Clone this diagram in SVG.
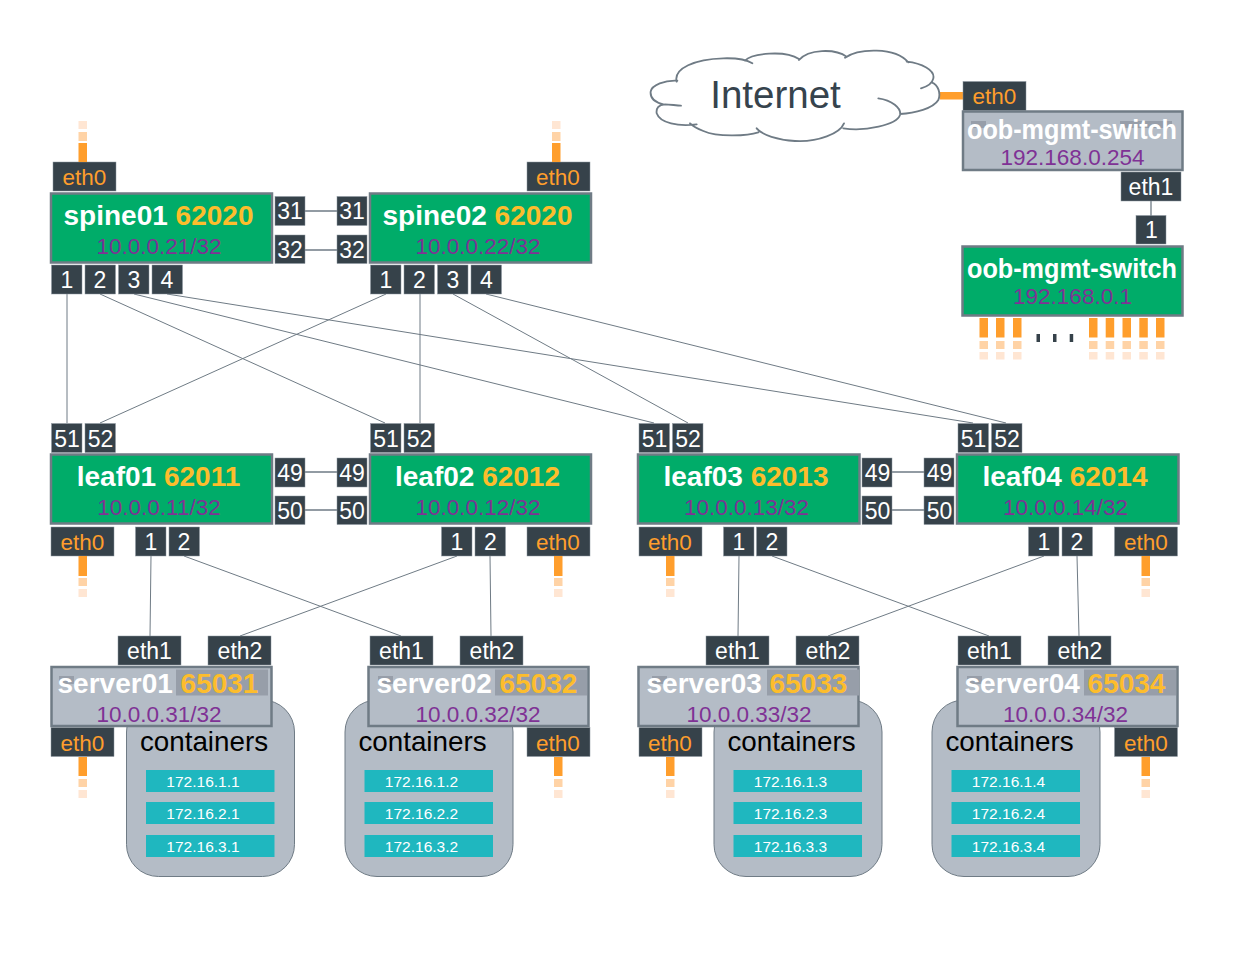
<svg xmlns="http://www.w3.org/2000/svg" width="1248" height="960" viewBox="0 0 1248 960">
<style>
text{font-family:"Liberation Sans",Arial,sans-serif;text-anchor:middle}
.n{stroke:#6f7b85;stroke-width:2.5}
.g{fill:#00ac69}
.s{fill:#b4bcc6}
.p{fill:#36424a;stroke:#8d97a1;stroke-width:.5}
.pt{fill:#fff;font-size:23px}
.pe{fill:#ff9e2c;font-size:22.5px}
.name{fill:#fff;font-size:28px;font-weight:bold}
.asn{fill:#fdbd2c}
.ip{fill:#7f3295;font-size:22.5px}
.patch{fill:#979ea9}
.link{stroke:#6f7b85;stroke-width:1;fill:none}
.link2{stroke:#6f7b85;stroke-width:1.3;fill:none}
.o1{fill:#ff9e2c}
.o2{fill:#ffd3a6}
.o3{fill:#ffe6d3}
.ct{fill:#b4bcc6;stroke:#6f7b85;stroke-width:1}
.ctt{fill:#000;font-size:27.8px}
.tl{fill:#1fb7bf}
.tlt{fill:#fff;font-size:15.5px}
</style>
<g id="connectors">
<path class="link" d="M67 294V423M100 294L385 423M134 294L654 423M167 294L973 423M386 294L100 423M420 294V423M453 294L688 423M486 294L1006 423"/>
<path class="link" d="M151 556L150 636M184 556L401 636M457 556L240 636M490 556L491 636M739 556L738 636M772 556L989 636M1044 556L828 636M1077 556L1079 636"/>
<path class="link2" d="M305 211H337M305 250H337M305 472H337M305 510H337M892 472H924M892 510H924M1151 201V216"/>
<rect class="o1" x="940" y="92" width="24" height="7.5"/>
</g>
<g id="internet">
<path transform="translate(645 45) scale(.33333)" fill="none" stroke="#6f7b85" stroke-width="5.500" stroke-linecap="round" d="M95 110C85 70 150 42 235 40C270 39 305 44 322 55M300 47C320 25 420 15 462 42M462 45C490 12 570 10 605 35M600 38C640 10 750 5 790 52M785 50C830 55 870 75 865 100C862 115 845 125 828 130M860 112C880 120 888 145 880 165C865 190 810 205 765 207M700 160C740 165 770 190 765 210C755 240 660 260 595 250M597 235C585 265 520 292 450 288C400 285 350 270 335 250M340 262C310 272 220 278 175 258C160 252 145 245 135 235M155 238C100 245 45 235 35 205C33 190 40 180 60 178C75 178 95 182 108 182M55 178C30 172 15 160 17 140C20 120 60 105 97 107"/>
<text x="775.500" y="107.500" font-size="38.500" fill="#36434d">Internet</text>
</g>
<g id="spine01">
<rect class="n g" x="51" y="193.500" width="221" height="69"/>
<text class="name" x="158.500" y="224.500">spine01 <tspan class="asn">62020</tspan></text>
<text class="ip" x="159" y="253.500">10.0.0.21/32</text>
<rect class="p" x="53" y="162" width="63" height="29"/><text class="pe" x="84.500" y="185">eth0</text>
<rect class="o1" x="78.500" y="143" width="8.500" height="19"/><rect class="o2" x="78.500" y="132" width="8.500" height="9"/><rect class="o3" x="78.500" y="121" width="8.500" height="8"/>
<rect class="p" x="275" y="196.500" width="30" height="29"/><text class="pt" x="290" y="219">31</text>
<rect class="p" x="275" y="235" width="30" height="28.500"/><text class="pt" x="290" y="257.500">32</text>
<rect class="p" x="51.500" y="265" width="30.500" height="29"/><text class="pt" x="67" y="288">1</text>
<rect class="p" x="85" y="265" width="30.500" height="29"/><text class="pt" x="100" y="288">2</text>
<rect class="p" x="118.500" y="265" width="30.500" height="29"/><text class="pt" x="134" y="288">3</text>
<rect class="p" x="152" y="265" width="30.500" height="29"/><text class="pt" x="167" y="288">4</text>
</g>
<g id="spine02">
<rect class="n g" x="370" y="193.500" width="221" height="69"/>
<text class="name" x="477.500" y="224.500">spine02 <tspan class="asn">62020</tspan></text>
<text class="ip" x="478" y="253.500">10.0.0.22/32</text>
<rect class="p" x="527" y="162" width="63" height="29"/><text class="pe" x="558" y="185">eth0</text>
<rect class="o1" x="552" y="143" width="8.500" height="19"/><rect class="o2" x="552" y="132" width="8.500" height="9"/><rect class="o3" x="552" y="121" width="8.500" height="8"/>
<rect class="p" x="337" y="196.500" width="30" height="29"/><text class="pt" x="352" y="219">31</text>
<rect class="p" x="337" y="235" width="30" height="28.500"/><text class="pt" x="352" y="257.500">32</text>
<rect class="p" x="370.500" y="265" width="30.500" height="29"/><text class="pt" x="386" y="288">1</text>
<rect class="p" x="404" y="265" width="30.500" height="29"/><text class="pt" x="419.500" y="288">2</text>
<rect class="p" x="437.500" y="265" width="30.500" height="29"/><text class="pt" x="453" y="288">3</text>
<rect class="p" x="471" y="265" width="30.500" height="29"/><text class="pt" x="486.500" y="288">4</text>
</g>
<g id="leaf01">
<rect class="n g" x="51" y="454.500" width="221" height="69"/>
<text class="name" x="158.500" y="485.500">leaf01 <tspan class="asn">62011</tspan></text>
<text class="ip" x="159" y="514.500">10.0.0.11/32</text>
<rect class="p" x="51.500" y="423.500" width="30.500" height="29"/><text class="pt" x="67" y="446.500">51</text>
<rect class="p" x="85" y="423.500" width="30.500" height="29"/><text class="pt" x="100.500" y="446.500">52</text>
<rect class="p" x="275" y="458" width="30" height="29"/><text class="pt" x="290" y="480.500">49</text>
<rect class="p" x="275" y="496" width="30" height="28.500"/><text class="pt" x="290" y="518.500">50</text>
<rect class="p" x="51" y="527" width="63" height="29"/><text class="pe" x="82.500" y="550">eth0</text>
<rect class="p" x="135.500" y="527" width="30.500" height="29"/><text class="pt" x="151" y="550">1</text>
<rect class="p" x="169" y="527" width="30.500" height="29"/><text class="pt" x="184" y="550">2</text>
<rect class="o1" x="78.500" y="556" width="8.500" height="20"/><rect class="o2" x="78.500" y="578" width="8.500" height="8"/><rect class="o3" x="78.500" y="589" width="8.500" height="8"/>
</g>
<g id="leaf02">
<rect class="n g" x="370" y="454.500" width="221" height="69"/>
<text class="name" x="477.500" y="485.500">leaf02 <tspan class="asn">62012</tspan></text>
<text class="ip" x="478" y="514.500">10.0.0.12/32</text>
<rect class="p" x="370.500" y="423.500" width="30.500" height="29"/><text class="pt" x="386" y="446.500">51</text>
<rect class="p" x="404" y="423.500" width="30.500" height="29"/><text class="pt" x="419.500" y="446.500">52</text>
<rect class="p" x="337" y="458" width="30" height="29"/><text class="pt" x="352" y="480.500">49</text>
<rect class="p" x="337" y="496" width="30" height="28.500"/><text class="pt" x="352" y="518.500">50</text>
<rect class="p" x="527" y="527" width="63" height="29"/><text class="pe" x="558" y="550">eth0</text>
<rect class="p" x="441.500" y="527" width="30.500" height="29"/><text class="pt" x="457" y="550">1</text>
<rect class="p" x="475" y="527" width="30.500" height="29"/><text class="pt" x="490.500" y="550">2</text>
<rect class="o1" x="554" y="556" width="8.500" height="20"/><rect class="o2" x="554" y="578" width="8.500" height="8"/><rect class="o3" x="554" y="589" width="8.500" height="8"/>
</g>
<g id="leaf03">
<rect class="n g" x="638" y="454.500" width="221.500" height="69"/>
<text class="name" x="746" y="485.500">leaf03 <tspan class="asn">62013</tspan></text>
<text class="ip" x="746.500" y="514.500">10.0.0.13/32</text>
<rect class="p" x="639" y="423.500" width="30.500" height="29"/><text class="pt" x="654.500" y="446.500">51</text>
<rect class="p" x="672.500" y="423.500" width="30.500" height="29"/><text class="pt" x="688" y="446.500">52</text>
<rect class="p" x="862" y="458" width="30" height="29"/><text class="pt" x="877.500" y="480.500">49</text>
<rect class="p" x="862" y="496" width="30" height="28.500"/><text class="pt" x="877.500" y="518.500">50</text>
<rect class="p" x="639" y="527" width="63" height="29"/><text class="pe" x="670" y="550">eth0</text>
<rect class="p" x="723.500" y="527" width="30.500" height="29"/><text class="pt" x="739" y="550">1</text>
<rect class="p" x="756.500" y="527" width="30.500" height="29"/><text class="pt" x="772" y="550">2</text>
<rect class="o1" x="666" y="556" width="8.500" height="20"/><rect class="o2" x="666" y="578" width="8.500" height="8"/><rect class="o3" x="666" y="589" width="8.500" height="8"/>
</g>
<g id="leaf04">
<rect class="n g" x="957" y="454.500" width="221.500" height="69"/>
<text class="name" x="1065" y="485.500">leaf04 <tspan class="asn">62014</tspan></text>
<text class="ip" x="1065.500" y="514.500">10.0.0.14/32</text>
<rect class="p" x="958" y="423.500" width="30.500" height="29"/><text class="pt" x="973.500" y="446.500">51</text>
<rect class="p" x="991.500" y="423.500" width="30.500" height="29"/><text class="pt" x="1007" y="446.500">52</text>
<rect class="p" x="924" y="458" width="30" height="29"/><text class="pt" x="939.500" y="480.500">49</text>
<rect class="p" x="924" y="496" width="30" height="28.500"/><text class="pt" x="939.500" y="518.500">50</text>
<rect class="p" x="1114.500" y="527" width="63" height="29"/><text class="pe" x="1146" y="550">eth0</text>
<rect class="p" x="1028.500" y="527" width="30.500" height="29"/><text class="pt" x="1044" y="550">1</text>
<rect class="p" x="1062" y="527" width="30.500" height="29"/><text class="pt" x="1077" y="550">2</text>
<rect class="o1" x="1141.500" y="556" width="8.500" height="20"/><rect class="o2" x="1141.500" y="578" width="8.500" height="8"/><rect class="o3" x="1141.500" y="589" width="8.500" height="8"/>
</g>
<g id="containers1">
<rect class="ct" x="126.500" y="700" width="168" height="176.500" rx="32"/>
<text class="ctt" x="204" y="751">containers</text>
<rect class="tl" x="146" y="770" width="128.500" height="22"/><text class="tlt" x="203" y="786.500">172.16.1.1</text>
<rect class="tl" x="146" y="802" width="128.500" height="22"/><text class="tlt" x="203" y="819">172.16.2.1</text>
<rect class="tl" x="146" y="835" width="128.500" height="22"/><text class="tlt" x="203" y="851.500">172.16.3.1</text>
</g>
<g id="containers2">
<rect class="ct" x="345" y="700" width="168" height="176.500" rx="32"/>
<text class="ctt" x="422.500" y="751">containers</text>
<rect class="tl" x="364.500" y="770" width="128.500" height="22"/><text class="tlt" x="421.500" y="786.500">172.16.1.2</text>
<rect class="tl" x="364.500" y="802" width="128.500" height="22"/><text class="tlt" x="421.500" y="819">172.16.2.2</text>
<rect class="tl" x="364.500" y="835" width="128.500" height="22"/><text class="tlt" x="421.500" y="851.500">172.16.3.2</text>
</g>
<g id="containers3">
<rect class="ct" x="714" y="700" width="168" height="176.500" rx="32"/>
<text class="ctt" x="791.500" y="751">containers</text>
<rect class="tl" x="733.500" y="770" width="128.500" height="22"/><text class="tlt" x="790.500" y="786.500">172.16.1.3</text>
<rect class="tl" x="733.500" y="802" width="128.500" height="22"/><text class="tlt" x="790.500" y="819">172.16.2.3</text>
<rect class="tl" x="733.500" y="835" width="128.500" height="22"/><text class="tlt" x="790.500" y="851.500">172.16.3.3</text>
</g>
<g id="containers4">
<rect class="ct" x="932" y="700" width="168" height="176.500" rx="32"/>
<text class="ctt" x="1009.500" y="751">containers</text>
<rect class="tl" x="951.500" y="770" width="128.500" height="22"/><text class="tlt" x="1008.500" y="786.500">172.16.1.4</text>
<rect class="tl" x="951.500" y="802" width="128.500" height="22"/><text class="tlt" x="1008.500" y="819">172.16.2.4</text>
<rect class="tl" x="951.500" y="835" width="128.500" height="22"/><text class="tlt" x="1008.500" y="851.500">172.16.3.4</text>
</g>
<g id="server01">
<rect class="p" x="118" y="636" width="63" height="29"/><text class="pt" x="149.500" y="659">eth1</text>
<rect class="p" x="208" y="636" width="63" height="29"/><text class="pt" x="240" y="659">eth2</text>
<rect class="n s" x="51.500" y="667" width="220" height="59"/>
<rect class="patch" x="176" y="669.500" width="92" height="26"/><rect class="patch" x="59" y="676" width="15" height="8"/>
<text class="name" x="158" y="692.500">server01 <tspan class="asn">65031</tspan></text>
<text class="ip" x="159" y="722">10.0.0.31/32</text>
<rect class="p" x="51" y="727.500" width="63" height="29"/><text class="pe" x="82.500" y="750.500">eth0</text>
<rect class="o1" x="78.500" y="757" width="8.500" height="19"/><rect class="o2" x="78.500" y="779" width="8.500" height="8"/><rect class="o3" x="78.500" y="790" width="8.500" height="8"/>
</g>
<g id="server02">
<rect class="p" x="370" y="636" width="63" height="29"/><text class="pt" x="401.500" y="659">eth1</text>
<rect class="p" x="460" y="636" width="63" height="29"/><text class="pt" x="492" y="659">eth2</text>
<rect class="n s" x="368.500" y="667" width="220" height="59"/>
<rect class="patch" x="495" y="669.500" width="92" height="26"/><rect class="patch" x="378" y="676" width="15" height="8"/>
<text class="name" x="477" y="692.500">server02 <tspan class="asn">65032</tspan></text>
<text class="ip" x="478" y="722">10.0.0.32/32</text>
<rect class="p" x="527" y="727.500" width="63" height="29"/><text class="pe" x="558" y="750.500">eth0</text>
<rect class="o1" x="554" y="757" width="8.500" height="19"/><rect class="o2" x="554" y="779" width="8.500" height="8"/><rect class="o3" x="554" y="790" width="8.500" height="8"/>
</g>
<g id="server03">
<rect class="p" x="706" y="636" width="63" height="29"/><text class="pt" x="737.500" y="659">eth1</text>
<rect class="p" x="796" y="636" width="63" height="29"/><text class="pt" x="828" y="659">eth2</text>
<rect class="n s" x="638.500" y="667" width="220" height="59"/>
<rect class="patch" x="767" y="669.500" width="92" height="26"/><rect class="patch" x="652" y="676" width="15" height="8"/>
<text class="name" x="747" y="692.500">server03 <tspan class="asn">65033</tspan></text>
<text class="ip" x="749" y="722">10.0.0.33/32</text>
<rect class="p" x="639" y="727.500" width="63" height="29"/><text class="pe" x="670" y="750.500">eth0</text>
<rect class="o1" x="666" y="757" width="8.500" height="19"/><rect class="o2" x="666" y="779" width="8.500" height="8"/><rect class="o3" x="666" y="790" width="8.500" height="8"/>
</g>
<g id="server04">
<rect class="p" x="958" y="636" width="63" height="29"/><text class="pt" x="989.500" y="659">eth1</text>
<rect class="p" x="1048" y="636" width="63" height="29"/><text class="pt" x="1080" y="659">eth2</text>
<rect class="n s" x="957.500" y="667" width="220" height="59"/>
<rect class="patch" x="1084" y="669.500" width="92" height="26"/><rect class="patch" x="967" y="676" width="15" height="8"/>
<text class="name" x="1065" y="692.500">server04 <tspan class="asn">65034</tspan></text>
<text class="ip" x="1065.500" y="722">10.0.0.34/32</text>
<rect class="p" x="1114.500" y="727.500" width="63" height="29"/><text class="pe" x="1146" y="750.500">eth0</text>
<rect class="o1" x="1141.500" y="757" width="8.500" height="19"/><rect class="o2" x="1141.500" y="779" width="8.500" height="8"/><rect class="o3" x="1141.500" y="790" width="8.500" height="8"/>
</g>
<g id="oob-server">
<rect class="p" x="963" y="81.500" width="63" height="29"/><text class="pe" x="994.500" y="103.500">eth0</text>
<rect class="n s" x="963" y="111.500" width="219.500" height="58.500"/>
<rect class="patch" x="971" y="121" width="15" height="7"/><rect class="patch" x="1120" y="121" width="52" height="7"/>
<text class="name" x="1072" y="138.500" textLength="210" lengthAdjust="spacingAndGlyphs">oob-mgmt-switch</text>
<text class="ip" x="1072.500" y="165">192.168.0.254</text>
<rect class="p" x="1121" y="172" width="60" height="29"/><text class="pt" x="1151" y="195">eth1</text>
</g>
<g id="oob-switch">
<rect class="p" x="1136" y="215.500" width="30" height="28.500"/><text class="pt" x="1151.500" y="238">1</text>
<rect class="n g" x="962.500" y="246.500" width="220" height="69"/>
<text class="name" x="1072" y="277.500" textLength="210" lengthAdjust="spacingAndGlyphs">oob-mgmt-switch</text>
<text class="ip" x="1072.500" y="304">192.168.0.1</text>
<path class="o1" d="M979.500 318h8.500v19.500h-8.500zM996 318h8.500v19.500h-8.500zM1013 318h8.500v19.500h-8.500zM1089 318h8.500v19.500h-8.500zM1105.700 318h8.500v19.500h-8.500zM1122.500 318h8.500v19.500h-8.500zM1139.300 318h8.500v19.500h-8.500zM1156 318h8.500v19.500h-8.500z"/>
<path class="o2" d="M979.500 341h8.500v8h-8.500zM996 341h8.500v8h-8.500zM1013 341h8.500v8h-8.500zM1089 341h8.500v8h-8.500zM1105.700 341h8.500v8h-8.500zM1122.500 341h8.500v8h-8.500zM1139.300 341h8.500v8h-8.500zM1156 341h8.500v8h-8.500z"/>
<path class="o3" d="M979.500 352h8.500v7.500h-8.500zM996 352h8.500v7.500h-8.500zM1013 352h8.500v7.500h-8.500zM1089 352h8.500v7.500h-8.500zM1105.700 352h8.500v7.500h-8.500zM1122.500 352h8.500v7.500h-8.500zM1139.300 352h8.500v7.500h-8.500zM1156 352h8.500v7.500h-8.500z"/>
<path fill="#36424a" d="M1036.500 334h3.500v8h-3.500zM1053 334h3.500v8h-3.500zM1069.700 334h3.500v8h-3.500z"/>
</g>
</svg>
